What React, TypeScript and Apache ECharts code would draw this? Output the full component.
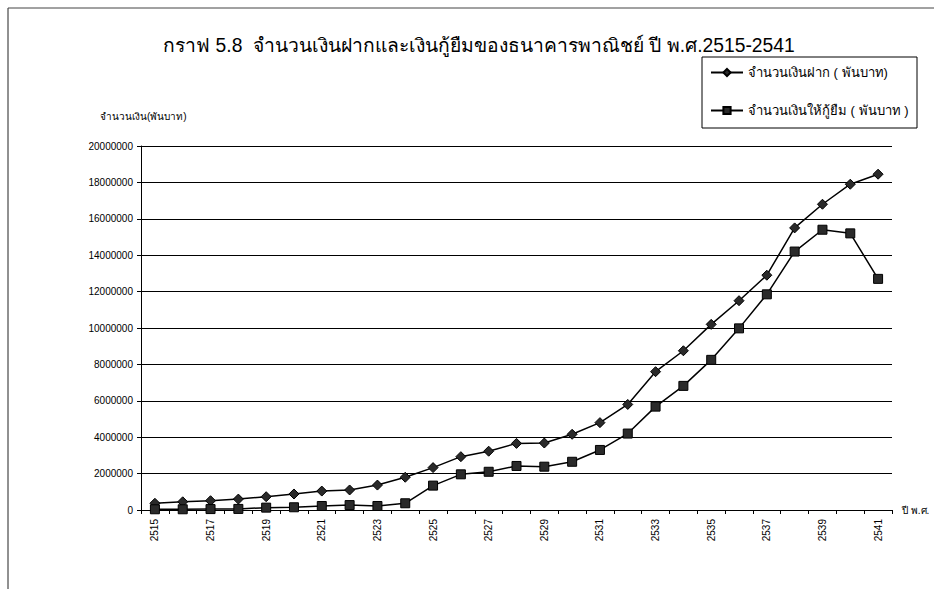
import React, { useEffect, useRef } from "react";
import * as echarts from "echarts";

const years = [
  "2515", "2516", "2517", "2518", "2519", "2520", "2521", "2522", "2523", "2524",
  "2525", "2526", "2527", "2528", "2529", "2530", "2531", "2532", "2533", "2534",
  "2535", "2536", "2537", "2538", "2539", "2540", "2541",
];
const deposits = [
  370000, 450000, 510000, 600000, 730000, 880000, 1040000, 1100000, 1370000, 1800000,
  2330000, 2930000, 3230000, 3660000, 3680000, 4160000, 4800000, 5800000, 7600000, 8750000,
  10200000, 11500000, 12900000, 15500000, 16800000, 17900000, 18450000,
];
const loans = [
  40000, 40000, 50000, 60000, 130000, 150000, 220000, 270000, 220000, 370000,
  1340000, 1960000, 2100000, 2420000, 2380000, 2650000, 3300000, 4200000, 5680000, 6820000,
  8250000, 9980000, 11850000, 14200000, 15400000, 15200000, 12700000,
];
const titleText = "กราฟ 5.8  จำนวนเงินฝากและเงินกู้ยืมของธนาคารพาณิชย์ ปี พ.ศ.2515-2541";
const depositName = "จำนวนเงินฝาก ( พันบาท)";
const loanName = "จำนวนเงินให้กู้ยืม ( พันบาท )";
const yAxisName = "จำนวนเงิน(พันบาท)";
const xAxisName = "ปี พ.ศ.";

const FONT = "'Liberation Sans Narrow', 'Liberation Sans', 'Noto Sans', sans-serif";

export default function App() {
  const ref = useRef<HTMLDivElement>(null);
  useEffect(() => {
    if (!ref.current) return;
    const chart = echarts.init(ref.current, null, { renderer: "svg" });
    chart.setOption({
      animation: false,
      backgroundColor: "#ffffff",
      textStyle: { fontFamily: FONT, color: "#000" },
      graphic: [
        { type: "line", shape: { x1: 8, y1: 8, x2: 8, y2: 589 }, style: { stroke: "#222", lineWidth: 1 } },
        { type: "line", shape: { x1: 8, y1: 8, x2: 934, y2: 8 }, style: { stroke: "#444", lineWidth: 1 } },
        {
          type: "text",
          x: 479,
          y: 45,
          style: {
            text: titleText,
            fontSize: 19.3,
            fontFamily: FONT,
            fill: "#000",
            textAlign: "center",
            textVerticalAlign: "middle",
          },
        },
        {
          type: "text",
          x: 100,
          y: 116,
          style: {
            text: yAxisName,
            fontSize: 10,
            fontFamily: FONT,
            fill: "#000",
            textAlign: "left",
            textVerticalAlign: "middle",
          },
        },
        { type: "rect", shape: { x: 702, y: 57, width: 215, height: 71 }, style: { fill: "none", stroke: "#000", lineWidth: 1 } },
      ],
      legend: {
        orient: "vertical",
        left: 705,
        top: 61,
        itemGap: 25,
        itemWidth: 32,
        itemHeight: 9,
        textStyle: { fontSize: 13, color: "#000", fontFamily: FONT },
        data: [depositName, loanName],
      },
      grid: { left: 141, right: 42, top: 146, bottom: 79, containLabel: false },
      xAxis: {
        type: "category",
        data: years,
        boundaryGap: true,
        name: xAxisName,
        nameLocation: "end",
        nameGap: 10,
        nameTextStyle: { fontSize: 10, color: "#000", verticalAlign: "middle" },
        axisLine: { lineStyle: { color: "#000", width: 1 } },
        axisTick: { show: true, interval: 0, length: 4, inside: false, lineStyle: { color: "#000" } },
        axisLabel: { interval: 1, rotate: 90, fontSize: 10, color: "#000", margin: 9 },
        splitLine: { show: false },
      },
      yAxis: {
        type: "value",
        min: 0,
        max: 20000000,
        interval: 2000000,
        axisLine: { show: true, lineStyle: { color: "#000", width: 1 } },
        axisTick: { show: true, length: 4, lineStyle: { color: "#000" } },
        axisLabel: { fontSize: 10, color: "#000", margin: 8, formatter: (v: number) => String(v), fontFamily: "'Liberation Sans', sans-serif" },
        splitLine: { show: true, lineStyle: { color: "#000", width: 1 } },
      },
      series: [
        {
          name: depositName,
          type: "line",
          data: deposits,
          symbol: "diamond",
          symbolSize: 10,
          lineStyle: { color: "#000", width: 1.5 },
          itemStyle: { color: "#2a2a2a", borderColor: "#000", borderWidth: 1 },
        },
        {
          name: loanName,
          type: "line",
          data: loans,
          symbol: "rect",
          symbolSize: 9,
          lineStyle: { color: "#000", width: 1.5 },
          itemStyle: { color: "#2a2a2a", borderColor: "#000", borderWidth: 1 },
        },
      ],
    });
    return () => chart.dispose();
  }, []);
  return <div ref={ref} style={{ width: 934, height: 589, position: "absolute", left: 0, top: 0 }} />;
}
